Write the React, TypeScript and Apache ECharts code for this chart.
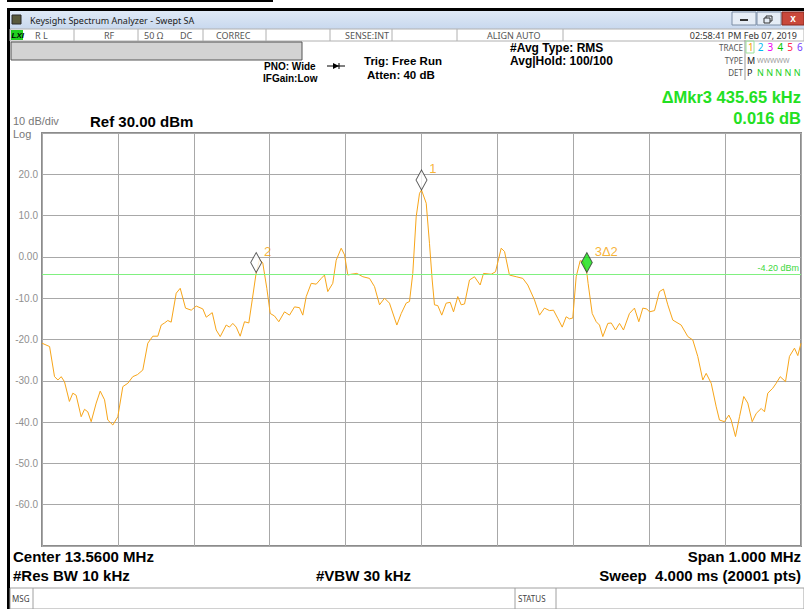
import React, { useEffect, useRef } from 'react';
import * as echarts from 'echarts';

// Frequency offset from center (kHz) and level (dBm)
const freqKHz = [
  -500, -490, -483.5, -479, -474.7, -470.4, -463.9, -459.4, -455, -448.4, -444, -439.7, -435.2, -428.6,
  -423.3, -417.6, -413.3, -406.7, -400.1, -393.5, -386.9, -380.4, -374.2, -367.2, -360.6, -354, -347.4,
  -342.9, -338.6, -334.3, -329.8, -323.2, -317.9, -310.9, -303.4, -296.8, -288.1, -283.6, -275.7, -270.5,
  -265.2, -257.3, -253, -248.6, -244.1, -238.9, -233.2, -227.5, -223, -217.8, -213.4, -209.1, -203.8,
  -199.3, -193.7, -188, -180.5, -173.9, -167.3, -160.7, -156.4, -151.9, -145.3, -138.7, -132.1, -127.8,
  -123.5, -116.9, -112.4, -105.8, -101.4, -97.1, -92.6, -85.2, -77.3, -68.5, -61.9, -55.3, -48.7, -42.2,
  -32.5, -26.7, -20.2, -15.8, -11.5, -7, -2.6, 0, 6.2, 10.5, 14.1, 17.1, 21.5, 26.7, 32.5, 37.8, 42.2,
  47.8, 52.3, 56.7, 63.2, 69.8, 77.3, 81.7, 91.8, 97.5, 105, 109.4, 115.9, 124.8, 133.5, 140, 148.8, 155.5,
  162, 168.6, 173.9, 179.6, 185.4, 190.6, 195, 199.3, 203.8, 209.1, 213.4, 217.8, 219.5, 224.9, 230.2,
  234.5, 238.9, 245.5, 250, 255.6, 260.9, 266.1, 274, 280.6, 286.3, 291.6, 296.8, 300.4, 307, 313.5,
  318.8, 324.5, 331.1, 342.1, 350.9, 357.4, 364, 370.6, 375.1, 381.7, 388.3, 392.6, 399.2, 404.9, 408,
  413.7, 419, 424.6, 429.9, 435.7, 441, 447.6, 451.9, 456.2, 462.8, 467.3, 472.6, 479.6, 484.8, 491.4,
  495.8, 500,
];
const levelDb = [
  -20.9, -21.7, -29, -29.8, -29, -30.2, -35, -33, -33.5, -38.7, -36.9, -37.5, -39.9, -35.4,
  -32.5, -34.6, -39.5, -40.7, -38.7, -31.4, -30.6, -29, -28.5, -27.4, -20.9, -19.2, -19.2,
  -16.5, -16, -15.4, -15.8, -8.8, -7.6, -12.4, -12.9, -11.9, -12.6, -14.6, -13.5, -17.7,
  -19.3, -16.5, -17, -16.1, -17, -19.2, -15.7, -16, -10.4, -3.8, -0.6, -1.5, -7.6,
  -13.7, -14.3, -15.7, -13.3, -14.1, -12.1, -12.3, -14.1, -9.6, -6.4, -6.6, -5.2, -4.4,
  -8.4, -6.4, -0.8, 2.1, 0.5, -4.4, -4.2, -4.0, -4.8, -5.2, -7.2, -11.6, -10, -11.2,
  -16.5, -13.7, -11.2, -10.8, -4, 9.7, 15.4, 16.2, 13.0, 3.3, -5.6, -11.6, -11.8, -14.1, -11.2, -11, -13.3,
  -9.6, -11.6, -11.4, -5.6, -4.8, -6.8, -4.0, -4.2, -3.6, 2.1, 1.3, -4.4, -4.8, -5.2, -6.8, -10.4, -14.1,
  -12.4, -13, -12.9, -14.9, -17.0, -14.5, -15, -14.8, -4.8, -0.9, -1.2, -3.8, -6.4, -13.7, -15.7,
  -16.5, -19.3, -16.1, -16, -17.7, -16.1, -17.7, -13.7, -12.4, -15.7, -12.4, -12.6, -13.3, -13, -8.4,
  -7.8, -11.6, -15.3, -16.5, -19.3, -20.1, -24.1, -29.8, -28.2, -30.6, -36.3, -39.5, -39.9, -38.3, -39.5,
  -43.5, -38.7, -33.8, -35.4, -39.9, -37.9, -36.7, -37.5, -33.0, -31.8, -30.6, -29, -30.2, -24.1, -22.1,
  -23.9, -20.9,
];

const markerFreq = [0, -217.8, 217.8];
const markerLevel = [16.2, -3.8, -3.8];
const markerNames = ['1', '2', '3Δ2'];
const displayLineDb = -4.2;

const statusCells = ['R L', 'RF', '50 Ω', 'DC', 'CORREC', 'SENSE:INT', 'ALIGN AUTO'];
const traceNums = ['1', '2', '3', '4', '5', '6'];
const traceColors = ['#f5a000', '#00b8f0', '#f000f0', '#00c800', '#ff2850', '#7a3cff'];

const SANS = "'Liberation Sans', Arial, sans-serif";
const UI = "'Noto Sans', 'DejaVu Sans', sans-serif";

function txt(text: string, x: number, y: number, o: any = {}) {
  const size = o.size || 11;
  return {
    type: 'text',
    x,
    y,
    silent: true,
    z: 10,
    style: {
      text,
      fill: o.fill || '#000',
      fontSize: size,
      lineHeight: o.lh || Math.round(size * 1.1),
      fontWeight: o.bold ? 'bold' : 'normal',
      fontStyle: o.italic ? 'italic' : 'normal',
      fontFamily: o.family || SANS,
      align: o.align || 'left',
      verticalAlign: 'middle',
    },
  };
}

function rect(x: number, y: number, w: number, h: number, fill: any, stroke?: string, lw = 1) {
  return {
    type: 'rect',
    silent: true,
    shape: { x, y, width: w, height: h },
    style: { fill, stroke: stroke || 'none', lineWidth: lw },
  };
}

function line(x1: number, y1: number, x2: number, y2: number, stroke: string, lw = 1) {
  return {
    type: 'line',
    silent: true,
    shape: { x1, y1, x2, y2 },
    style: { stroke, lineWidth: lw },
  };
}

export default function App() {
  const ref = useRef<HTMLDivElement>(null);
  useEffect(() => {
    if (!ref.current) return;
    const chart = echarts.init(ref.current, undefined, { renderer: 'svg' });

    const traceData = freqKHz.map((f, i) => [f, levelDb[i]]);
    const markerData = markerFreq.map((f, i) => ({
      value: [f, markerLevel[i]],
      name: markerNames[i],
      itemStyle: { color: i === 2 ? '#10e010' : '#ffffff', borderColor: '#333', borderWidth: 1 },
    }));

    const statusX = [35, 104, 144, 180, 216, 345, 487];
    const sepX = [74, 138, 203, 266, 330, 392, 457, 563];

    const graphic: any[] = [
      // outer frame
      rect(7, 0, 266, 2, '#000'),
      rect(7, 8, 797, 3, '#000'),
      rect(7, 8, 3, 601, '#000'),
      // title bar
      rect(10, 11, 794, 18, new echarts.graphic.LinearGradient(0, 0, 0, 1, [
        { offset: 0, color: '#dfe9f6' },
        { offset: 1, color: '#c8d8ee' },
      ])),
      rect(12, 15, 9, 9, '#5a5a3c', '#2a2a2a'),
      txt('Keysight Spectrum Analyzer - Swept SA', 30, 20, { size: 9, family: UI, fill: '#1a1a1a' }),
      rect(732, 12, 24, 13, '#e6edf6', '#7d8ea6'),
      line(740, 20, 748, 20, '#333', 2),
      rect(757, 12, 24, 13, '#e6edf6', '#7d8ea6'),
      rect(766, 16, 6, 5, 'none', '#333'),
      rect(764, 18, 6, 5, '#e6edf6', '#333'),
      rect(782, 12, 22, 13, '#c9483b', '#8a2a20'),
      txt('x', 793, 18, { size: 10, bold: true, fill: '#fff', align: 'center' }),
      // status row
      rect(10, 29, 794, 12, '#ffffff', '#b0b0b0'),
      rect(11, 30, 12, 10, '#20d020'),
      txt('LXI', 11.5, 35, { size: 8, bold: true, italic: true, fill: '#000' }),
      ...sepX.map((x) => line(x, 29, x, 41, '#b0b0b0')),
      ...statusCells.map((s, i) => txt(s, statusX[i], 35, { size: 9, family: UI, fill: '#555' })),
      txt('02:58:41 PM Feb 07, 2019', 797, 35, { size: 9, family: UI, fill: '#333', align: 'right' }),
      // gray message bar
      rect(11, 42, 291, 18, '#d3d3d3', '#555', 1),
      // setting texts
      txt('PNO: Wide', 264, 66, { size: 10, bold: true }),
      txt('IFGain:Low', 263, 78, { size: 10, bold: true }),
      line(327, 66, 345, 66, '#000', 1),
      { type: 'polygon', silent: true, shape: { points: [[333, 63], [339, 66], [333, 69]] }, style: { fill: '#000' } },
      line(339, 63, 339, 69, '#000', 1),
      txt('Trig: Free Run', 364, 61, { size: 11.5, bold: true }),
      txt('Atten: 40 dB', 367, 75, { size: 11.5, bold: true }),
      txt('#Avg Type: RMS', 510, 48, { size: 12, bold: true }),
      txt('Avg|Hold: 100/100', 510, 61, { size: 12, bold: true }),
      // trace block
      txt('TRACE', 743, 47, { size: 8, family: UI, fill: '#555', align: 'right' }),
      txt('TYPE', 743, 60, { size: 8, family: UI, fill: '#555', align: 'right' }),
      txt('DET', 743, 72, { size: 8, family: UI, fill: '#555', align: 'right' }),
      line(745, 40, 745, 80, '#999'),
      rect(746, 41, 8, 12, 'none', '#9be29b'),
      ...traceNums.map((n, i) => txt(n, 748 + i * 9.8, 47, { size: 10, family: UI, fill: traceColors[i] })),
      txt('M', 747, 60, { size: 9, family: UI, fill: '#222' }),
      txt('WWWWW', 757, 60, { size: 7, family: UI, fill: '#999' }),
      txt('P', 747, 72, { size: 9, family: UI, fill: '#222' }),
      txt('N N N N N', 757, 72, { size: 9, family: UI, fill: '#22d022' }),
      // marker readout
      txt('ΔMkr3 435.65 kHz', 801, 97, { size: 16.5, bold: true, fill: '#22e022', align: 'right' }),
      txt('0.016 dB', 801, 117.5, { size: 16.5, bold: true, fill: '#22e022', align: 'right' }),
      // scale texts
      txt('10 dB/div', 13, 120.5, { size: 11, fill: '#777' }),
      txt('Log', 13, 133.5, { size: 11, fill: '#777' }),
      txt('Ref 30.00 dBm', 90, 121, { size: 15, bold: true }),
      // bottom annotations
      txt('Center 13.5600 MHz', 13, 556, { size: 15, bold: true }),
      txt('Span 1.000 MHz', 801, 556, { size: 15, bold: true, align: 'right' }),
      txt('#Res BW 10 kHz', 13, 575, { size: 15, bold: true }),
      txt('#VBW 30 kHz', 316, 575, { size: 15, bold: true }),
      txt('Sweep  4.000 ms (20001 pts)', 801, 575, { size: 15, bold: true, align: 'right' }),
      // message/status bar
      rect(10, 588, 794, 21, '#ffffff', '#a0a0a0'),
      line(33, 588, 33, 609, '#a0a0a0'),
      line(515, 588, 515, 609, '#a0a0a0'),
      line(556, 588, 556, 609, '#a0a0a0'),
      txt('MSG', 12, 598, { size: 8, family: UI, fill: '#444' }),
      txt('STATUS', 518, 598, { size: 8, family: UI, fill: '#444' }),
    ];

    chart.setOption({
      animation: false,
      backgroundColor: '#ffffff',
      grid: {
        left: 42,
        top: 133,
        width: 759,
        height: 413,
        show: true,
        borderColor: '#8c8c8c',
        borderWidth: 2,
        backgroundColor: '#ffffff',
      },
      xAxis: {
        type: 'value',
        min: -500,
        max: 500,
        interval: 100,
        axisLine: { show: false },
        axisTick: { show: false },
        axisLabel: { show: false },
        splitLine: { show: true, lineStyle: { color: '#a8a8a8', width: 1 } },
      },
      yAxis: {
        type: 'value',
        min: -70,
        max: 30,
        interval: 10,
        axisLine: { show: false },
        axisTick: { show: false },
        axisLabel: {
          margin: 4,
          color: '#8f8f8f',
          fontSize: 10,
          fontFamily: SANS,
          formatter: (v: number) => (v === 30 || v === -70 ? '' : v === 0 ? '0.00' : v.toFixed(1)),
        },
        splitLine: { show: true, lineStyle: { color: '#a8a8a8', width: 1 } },
      },
      series: [
        {
          type: 'line',
          data: traceData,
          symbol: 'none',
          lineStyle: { color: '#f7a519', width: 1 },
          z: 3,
          markLine: {
            silent: true,
            symbol: 'none',
            lineStyle: { color: '#80f080', type: 'solid', width: 1 },
            label: {
              show: true,
              position: 'insideEndTop',
              formatter: '-4.20 dBm',
              color: '#40d840',
              fontSize: 9,
              fontFamily: SANS,
              distance: 2,
            },
            data: [{ yAxis: displayLineDb }],
          },
        },
        {
          type: 'scatter',
          data: markerData,
          symbol: 'diamond',
          symbolSize: [11, 20],
          symbolOffset: [0, -10],
          z: 5,
          label: {
            show: true,
            formatter: '{b}',
            position: 'right',
            offset: [-3, -11],
            color: '#f5a000',
            fontSize: 13,
            fontFamily: SANS,
          },
        },
      ],
      graphic,
    });
    return () => chart.dispose();
  }, []);
  return (
    <div
      ref={ref}
      style={{ position: 'fixed', left: 0, top: 0, width: 804, height: 609, background: '#fff' }}
    />
  );
}
